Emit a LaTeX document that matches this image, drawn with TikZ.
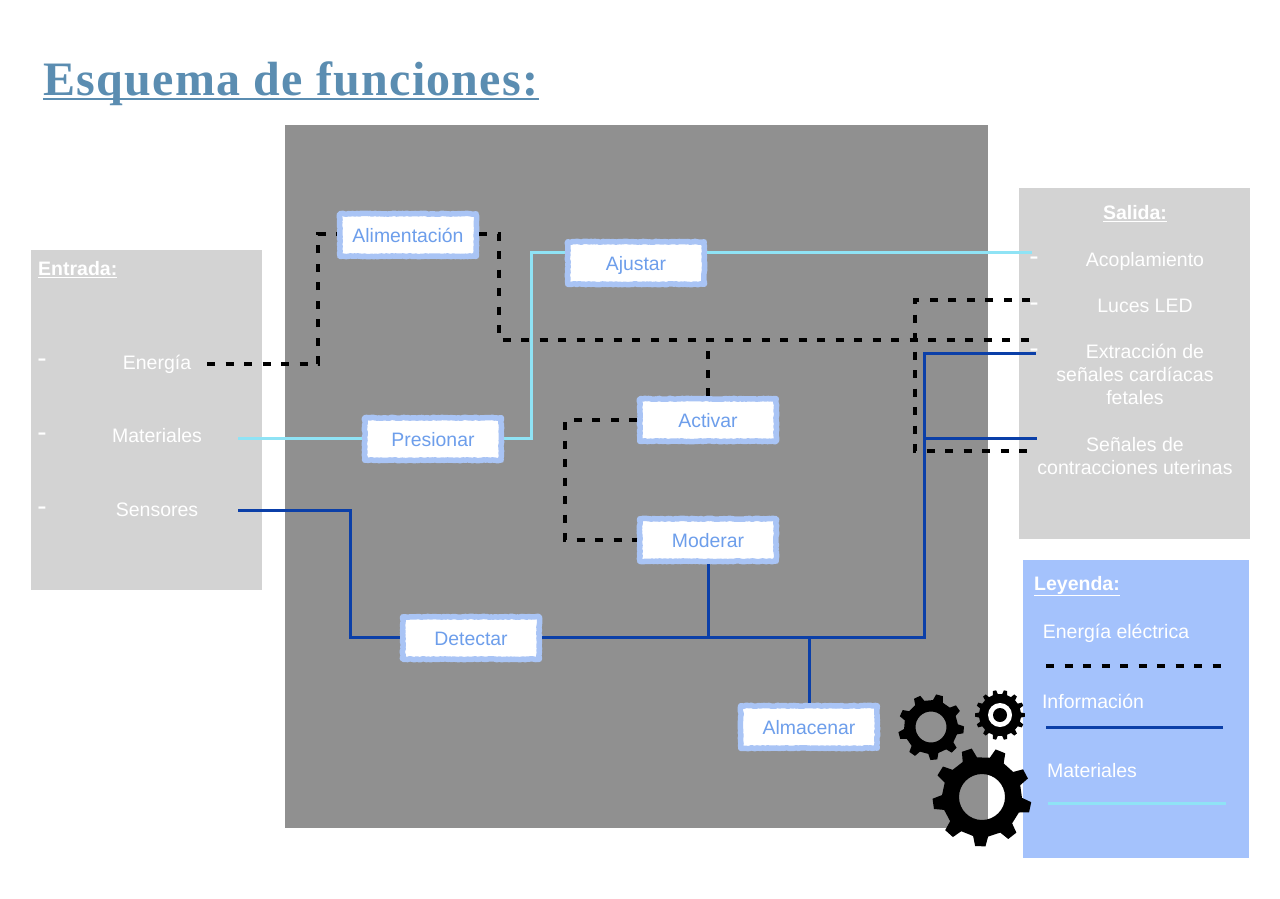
\documentclass[tikz,border=0pt]{standalone}
\usepackage{fontspec}
\setmainfont{Liberation Sans}
\newfontfamily\titlefont[LetterSpace=2.7]{Liberation Serif}
\usetikzlibrary{
        decorations.pathmorphing,
        positioning
    }
\definecolor{panelgrey}{HTML}{909090}
\definecolor{sidegrey}{HTML}{D3D3D3}
\definecolor{legendblue}{HTML}{A4C2FC}
\definecolor{boxblue}{HTML}{A9C4F5}
\definecolor{labelblue}{HTML}{6D9EEB}
\definecolor{infoblue}{HTML}{0B3FA8}
\definecolor{matblue}{HTML}{8FE3F5}
\definecolor{titleblue}{HTML}{5B8DB1}
\tikzset{
    func/.style={draw=boxblue,fill=white,line width=5.5pt,line join=round,minimum width=136.5pt,minimum height=42.5pt,
        inner sep=0pt,text=labelblue,font=\fontsize{19.4}{21}\selectfont,text height=14pt,text depth=0pt,
        decorate,decoration={random steps,segment length=1.8pt,amplitude=.5pt}},
    txt/.style={text=white,font=\fontsize{19.5}{23}\selectfont,align=center,inner sep=0pt},
    head/.style={txt,font=\fontsize{19.5}{23}\selectfont\bfseries},
    dashmark/.style={txt,font=\fontsize{28}{28}\selectfont},
    elec/.style={draw=black,line width=3.8pt,dash pattern=on 8pt off 10.5pt},
    info/.style={draw=infoblue,line width=3pt},
    mat/.style={draw=matblue,line width=3pt}
}
% centre, outer radius, root radius, teeth, turn
\newcommand{\gearpath}[5]{
    ([shift={(#1)}] #5+.15*360/#4:#2)
    \foreach \t [evaluate=\t as \aa using #5+(\t-1+.15)*360/#4,
                 evaluate=\t as \ab using #5+(\t-1+.27)*360/#4,
                 evaluate=\t as \ac using #5+(\t-1+.73)*360/#4,
                 evaluate=\t as \ad using #5+(\t-1+.85)*360/#4] in {1,...,#4}{
        -- ([shift={(#1)}] \aa:#2)
        -- ([shift={(#1)}] \ab:#3)
        -- ([shift={(#1)}] \ac:#3)
        -- ([shift={(#1)}] \ad:#2)
    } -- cycle
}
\begin{document}
\begin{tikzpicture}[x=1pt,y=-1pt]
    \useasboundingbox (0,0) rectangle (1280,898);
    \fill[white] (0,0) rectangle (1280,898);
    % panels
    \fill[panelgrey] (285,125) rectangle (988,828);
    \fill[sidegrey] (31,250) rectangle (262,590);
    \fill[sidegrey] (1019,188) rectangle (1250,539);
    \fill[legendblue] (1023,560) rectangle (1249,858);

    \node[anchor=base west,inner sep=0pt,text=titleblue] (title) at (43,95)
        {\titlefont\fontsize{48}{50}\selectfont\bfseries Esquema de funciones:};
    \draw[titleblue,line width=1.8pt] ([yshift=-4pt]title.base west) -- ([yshift=-4pt]title.base east);

    % inputs
    \node[head,anchor=west] (entrada) at (38,270) {\underline{Entrada:}};
    \node[txt] (energia) at (157,364) {Energía};
    \node[txt] (materiales) at (157,436) {Materiales};
    \node[txt] (sensores) at (157,510) {Sensores};
    \node[dashmark] (d1) at (42,363) {-};
    \node[dashmark] (d2) at (42,437) {-};
    \node[dashmark] (d3) at (42,511) {-};

    % functions
    \node[func] (alim) at (408,235) {Alimentación};
    \node[func] (ajustar) at (636,263) {Ajustar};
    \node[func] (presionar) at (433,439) {Presionar};
    \node[func] (activar) at (708,420) {Activar};
    \node[func] (moderar) at (708,540) {Moderar};
    \node[func] (detectar) at (471,638) {Detectar};
    \node[func] (almacenar) at (809,727) {Almacenar};

    % outputs
    \node[head] (salida) at (1135,214) {\underline{Salida:}};
    \node[txt] (acople) at (1145,261) {Acoplamiento};
    \node[txt] (luces) at (1145,306) {Luces LED};
    \node[txt] (senales) at (1135,374) {\hspace*{20pt}Extracción de\\señales cardíacas\\fetales};
    \node[txt] (contrac) at (1135,456) {Señales de\\contracciones uterinas};
    \node[dashmark] (d4) at (1034,261) {-};
    \node[dashmark] (d5) at (1034,307) {-};
    \node[dashmark] (d6) at (1034,353) {-};

    % legend
    \node[head,anchor=west] (leyenda) at (1034,586) {\underline{Leyenda:}};
    \node[txt] (lelec) at (1116,633) {Energía eléctrica};
    \node[txt] (linfo) at (1093,701) {Información};
    \node[txt] (lmat) at (1092,771) {Materiales};

    % free ends
    \coordinate (energiaout) at (207,364);
    \coordinate (matout) at (238,438);
    \coordinate (sensout) at (238,510);
    \coordinate (bus) at (499,340);
    \coordinate (busout) at (1030,340);
    \coordinate (lucesout) at (1030,300);
    \coordinate (contracout) at (1030,451);
    \coordinate (acopleout) at (1032,252);
    \coordinate (senalesout) at (1036,353);
    \coordinate (uterout) at (1037,438);
    \coordinate (infojoin) at (924,637);
    \coordinate (e1) at (1046,666);
    \coordinate (e2) at (1222,666);
    \coordinate (i1) at (1046,727);
    \coordinate (i2) at (1223,727);
    \coordinate (m1) at (1048,803);
    \coordinate (m2) at (1226,803);

    % energy
    \draw[elec] (energiaout) -| (318,234) -- (alim.west |- 0,234);
    \draw[elec] (alim.east |- 0,234) -| (bus) -- (busout);
    \draw[elec] (activar.north) -- (activar.north |- bus);
    \draw[elec] (activar.west) -- (565,420) |- (moderar.west);
    \draw[elec] (lucesout) -| (915,451) -- (contracout);
    \draw[elec] (e1) -- (e2);

    % information
    \draw[info] (sensout) -| (350,637) -- (detectar.west |- 0,637);
    \draw[info] (detectar.east |- 0,637) -- (infojoin) |- (senalesout);
    \draw[info] (924,438) -- (uterout);
    \draw[info] (moderar.south) -- (moderar.south |- infojoin);
    \draw[info] (almacenar.north) -- (almacenar.north |- infojoin);
    \draw[info] (i1) -- (i2);

    % materials
    \draw[mat] (matout) -- (presionar.west |- 0,438);
    \draw[mat] (presionar.east |- 0,438) -- (531,438) |- (ajustar.west |- 0,252);
    \draw[mat] (ajustar.east |- 0,252) -- (acopleout);
    \draw[mat] (m1) -- (m2);

    % gears
    \fill[black,even odd rule] \gearpath{982,797}{49.5}{40}{9}{12} (982,797) circle (23);
    \fill[black,even odd rule] \gearpath{931,727}{33}{27}{9}{5} (931,727) circle (15.5);
    \fill[black] \gearpath{1000,715}{25}{21}{14}{0};
    \fill[white] (1000,715) circle (12);
    \fill[black] (1000,715) circle (7);
\end{tikzpicture}
\end{document}
